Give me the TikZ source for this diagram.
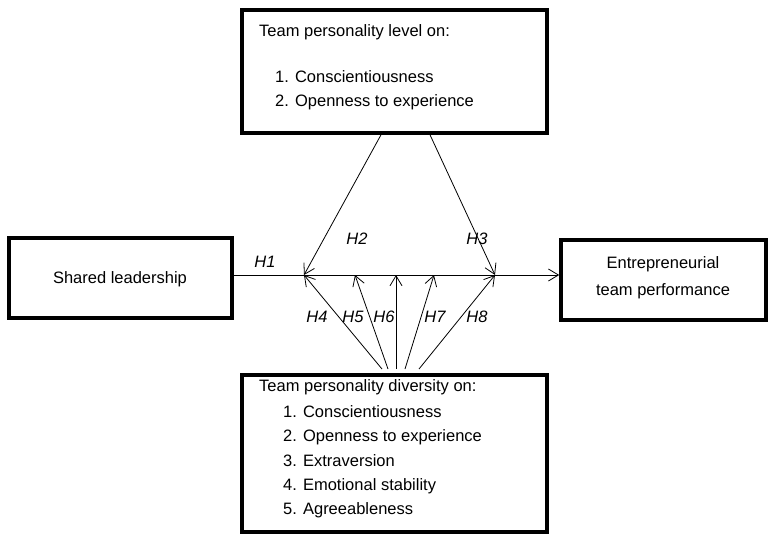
\documentclass[tikz,border=0pt]{standalone}
\usepackage{fontspec}
\setmainfont{Liberation Sans}
\usetikzlibrary{arrows.meta}
\begin{document}
\begin{tikzpicture}[x=1pt,y=-1pt,
  box/.style={draw,line width=3.6pt},
  arr/.style={line width=0.8pt,-{Straight Barb[length=10pt,width=12pt,line width=0.8pt]}},
  hl/.style={font=\fontsize{16.5}{19}\selectfont\itshape},
  txt/.style={font=\fontsize{16.5}{19}\selectfont,anchor=west,inner sep=0pt}]
\useasboundingbox (0,0) rectangle (773,535);
% boxes
\draw[box] (242,10) rectangle (547,133);
\draw[box] (9,238) rectangle (232,318);
\draw[box] (561,240) rectangle (766,320);
\draw[box] (242,375) rectangle (547,532);
\node[txt] (tt) at (259,32) {Team personality level on:};
\node[txt] (t1) at (275,77) {1. Conscientiousness};
\node[txt] (t2) at (275,102) {2. Openness to experience};
\node[font=\fontsize{16.5}{19}\selectfont] (sl) at (120,279) {Shared leadership};
\node[font=\fontsize{16.5}{27}\selectfont,align=center] (etp) at (663,278) {Entrepreneurial\\team performance};
\node[txt] (bt) at (259,387) {Team personality diversity on:};
\node[txt] (b1) at (283,412) {1. Conscientiousness};
\node[txt] (b2) at (283,437) {2. Openness to experience};
\node[txt] (b3) at (283,461) {3. Extraversion};
\node[txt] (b4) at (283,486) {4. Emotional stability};
\node[txt] (b5) at (283,510) {5. Agreeableness};
% coordinates
\coordinate (L) at (233.8,275);
\coordinate (R) at (559.2,275);
\coordinate (p4) at (304,275);
\coordinate (p5) at (355,275);
\coordinate (p6) at (396,275);
\coordinate (p7) at (434,275);
\coordinate (p8) at (495,275);
\coordinate (s2) at (381,134.8);
\coordinate (s3) at (430,134.8);
\coordinate (q4) at (382,369);
\coordinate (q5) at (388,369);
\coordinate (q6) at (396,369);
\coordinate (q7) at (405,369);
\coordinate (q8) at (419,369);
% connectors
\draw[arr] (L) -- (R);
\draw[arr] (s2) -- (p4);
\draw[arr] (s3) -- (p8);
\draw[arr] (q4) -- (p4);
\draw[arr] (q5) -- (p5);
\draw[arr] (q6) -- (p6);
\draw[arr] (q7) -- (p7);
\draw[arr] (q8) -- (p8);
% labels
\node[hl] (h1) at (265,262) {H1};
\node[hl] (h2) at (357,239) {H2};
\node[hl] (h3) at (477,239) {H3};
\node[hl] (h4) at (317,317) {H4};
\node[hl] (h5) at (353,317) {H5};
\node[hl] (h6) at (384,317) {H6};
\node[hl] (h7) at (435,317) {H7};
\node[hl] (h8) at (477,317) {H8};
\end{tikzpicture}
\end{document}
